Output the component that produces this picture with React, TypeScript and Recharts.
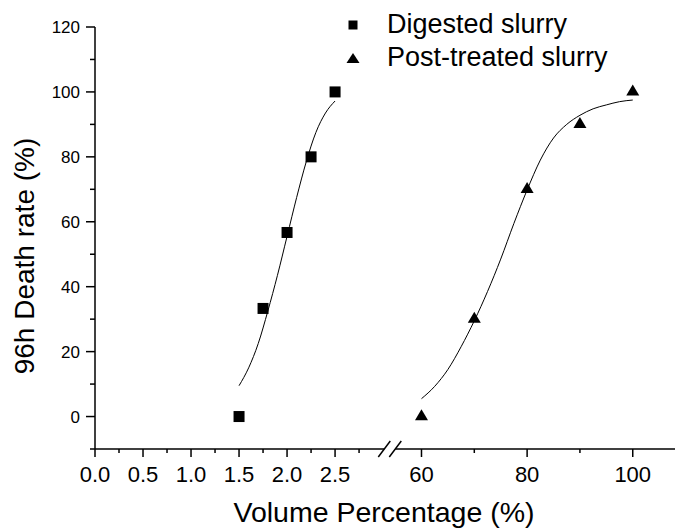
import React from "react";
import { ComposedChart, Scatter, Line, XAxis, YAxis, Legend, Label } from "recharts";

// measured points
const digestedX = [1.5, 1.75, 2.0, 2.25, 2.5];
const digestedY = [0, 33.3, 56.7, 80, 100];
const postX = [60, 70, 80, 90, 100];
const postY = [0, 30, 70, 90, 100];

// fitted curves
const digestedFitX = [1.5, 1.6, 1.7, 1.8, 1.9, 2.0, 2.1, 2.2, 2.3, 2.4, 2.5];
const digestedFitY = [9.5, 15, 22.5, 32.5, 43.5, 55.5, 67.5, 78.5, 87.5, 93.5, 97.2];
const postFitX = [60, 62.5, 65, 67.5, 70, 72.5, 75, 77.5, 80, 82.5, 85, 87.5, 90, 92.5, 95, 97.5, 100];
const postFitY = [5.5, 9.3, 14.5, 21.5, 29.5, 38.5, 48.5, 59.5, 69.8, 79, 85.8, 90, 92.8, 94.8, 96, 97, 97.5];

// ticks
const leftMajor = [0, 0.5, 1.0, 1.5, 2.0, 2.5];
const leftMinor = [0.25, 0.75, 1.25, 1.75, 2.25, 2.75];
const rightMajor = [60, 80, 100];
const rightMinor = [70, 90];
const yMajor = [0, 20, 40, 60, 80, 100, 120];
const yMinor = [-10, 10, 30, 50, 70, 90, 110];

const legendNames = ["Digested slurry", "Post-treated slurry"];

const FONT = '"Liberation Sans", Arial, Helvetica, sans-serif';

// broken axis: left part as is, right part squeezed after the break
const RIGHT_START = 56;
const RIGHT_V0 = 3.18;
const K = 0.055;
const V_MAX = 6.04;
const BREAK_V = 3.07;
const toV = (x: number) => (x <= 3 ? x : RIGHT_V0 + (x - RIGHT_START) * K);

const zip = (xs: number[], ys: number[]) => xs.map((x, i) => ({ v: toV(x), y: ys[i] }));
const digested = zip(digestedX, digestedY);
const post = zip(postX, postY);
const digestedFit = zip(digestedFitX, digestedFitY);
const postFit = zip(postFitX, postFitY);

type TickInfo = { kind: "major" | "minor" | "break"; label?: string };
const xTickInfo = new Map<number, TickInfo>();
leftMajor.forEach((t) => xTickInfo.set(toV(t), { kind: "major", label: t.toFixed(1) }));
leftMinor.forEach((t) => xTickInfo.set(toV(t), { kind: "minor" }));
rightMajor.forEach((t) => xTickInfo.set(toV(t), { kind: "major", label: String(t) }));
rightMinor.forEach((t) => xTickInfo.set(toV(t), { kind: "minor" }));
xTickInfo.set(BREAK_V, { kind: "break" });
const xTicks = [...xTickInfo.keys()].sort((a, b) => a - b);

const yTicks = [...yMajor, ...yMinor].sort((a, b) => a - b);

const lookup = (v: number) => {
  let best: TickInfo | undefined;
  let d = Infinity;
  xTickInfo.forEach((info, k) => {
    if (Math.abs(k - v) < d) {
      d = Math.abs(k - v);
      best = info;
    }
  });
  return best;
};

const XTick = (props: any) => {
  const { x, y, payload } = props;
  const info = lookup(payload.value);
  if (!info) return null;
  if (info.kind === "break") {
    return (
      <g>
        <rect x={x - 5.5} y={y - 3} width={11} height={6} fill="#fff" />
        <line x1={x - 11.5} y1={y + 8} x2={x + 0.5} y2={y - 8} stroke="#000" strokeWidth={1.5} />
        <line x1={x - 0.5} y1={y + 8} x2={x + 11.5} y2={y - 8} stroke="#000" strokeWidth={1.5} />
      </g>
    );
  }
  const len = info.kind === "major" ? 8 : 4;
  return (
    <g>
      <line x1={x} y1={y} x2={x} y2={y + len} stroke="#000" strokeWidth={1.5} />
      {info.kind === "major" && (
        <text x={x} y={y + 33} textAnchor="middle" fontSize={22} fontFamily={FONT} fill="#000">
          {info.label}
        </text>
      )}
    </g>
  );
};

const YTick = (props: any) => {
  const { x, y, payload } = props;
  const major = yMajor.includes(payload.value);
  return (
    <g>
      <line x1={x - (major ? 9 : 5)} y1={y} x2={x} y2={y} stroke="#000" strokeWidth={1.5} />
      {major && (
        <text x={x - 15} y={y + 6} textAnchor="end" fontSize={17} fontFamily={FONT} fill="#000">
          {payload.value}
        </text>
      )}
    </g>
  );
};

const XTitle = (props: any) => {
  const vb = props.viewBox || { x: 95, y: 449, width: 580, height: 80 };
  return (
    <text x={vb.x + vb.width / 2 - 1} y={vb.y + 72.5} textAnchor="middle" fontSize={28.5} fontFamily={FONT} fill="#000">
      Volume Percentage (%)
    </text>
  );
};

const YTitle = (props: any) => {
  const vb = props.viewBox || { x: 0, y: 27, width: 95, height: 422 };
  const cx = vb.x + 34;
  const cy = vb.y + vb.height / 2 + 18;
  return (
    <text x={cx} y={cy} transform={`rotate(-90 ${cx} ${cy})`} textAnchor="middle" fontSize={28} fontFamily={FONT} fill="#000">
      96h Death rate (%)
    </text>
  );
};

const SquareDot = (p: any) => <rect x={p.cx - 5.5} y={p.cy - 5.5} width={11} height={11} fill="#000" />;
const TriDot = (p: any) => (
  <polygon points={`${p.cx},${p.cy - 7.3} ${p.cx + 6.5},${p.cy + 3.7} ${p.cx - 6.5},${p.cy + 3.7}`} fill="#000" />
);

const LegendContent = () => (
  <div style={{ fontFamily: FONT, fontSize: 27, color: "#000" }}>
    {legendNames.map((name, i) => (
      <div key={name} style={{ display: "flex", alignItems: "center", height: 33, whiteSpace: "nowrap" }}>
        <svg width={26} height={33} style={{ display: "block" }}>
          {i === 0 ? (
            <rect x={8.5} y={12.5} width={9} height={9} fill="#000" />
          ) : (
            <polygon points="13,12 19.5,22 6.5,22" fill="#000" />
          )}
        </svg>
        <span style={{ marginLeft: 21, lineHeight: "33px" }}>{name}</span>
      </div>
    ))}
  </div>
);

export default function App() {
  return (
    <div>
      <style>{"body{margin:0}"}</style>
      <ComposedChart width={676} height={529} margin={{ top: 27, right: 1, bottom: 0, left: 0 }}>
        <XAxis
          type="number"
          dataKey="v"
          domain={[0, V_MAX]}
          allowDataOverflow
          ticks={xTicks}
          interval={0}
          tick={<XTick />}
          tickLine={false}
          tickSize={0}
          tickMargin={0}
          height={80}
          axisLine={{ stroke: "#000", strokeWidth: 1.5 }}
        >
          <Label content={<XTitle />} />
        </XAxis>
        <YAxis
          type="number"
          dataKey="y"
          domain={[-10, 120]}
          allowDataOverflow
          ticks={yTicks}
          interval={0}
          tick={<YTick />}
          tickLine={false}
          tickSize={0}
          tickMargin={0}
          width={95}
          axisLine={{ stroke: "#000", strokeWidth: 1.5 }}
        >
          <Label content={<YTitle />} />
        </YAxis>
        <Legend
          layout="vertical"
          align="center"
          verticalAlign="middle"
          wrapperStyle={{ top: 8, left: 340, width: 320 }}
          content={<LegendContent />}
        />
        <Line data={digestedFit} dataKey="y" type="monotone" stroke="#000" strokeWidth={1} dot={false} activeDot={false} legendType="none" isAnimationActive={false} />
        <Line data={postFit} dataKey="y" type="monotone" stroke="#000" strokeWidth={1} dot={false} activeDot={false} legendType="none" isAnimationActive={false} />
        <Scatter name={legendNames[0]} data={digested} dataKey="y" shape={<SquareDot />} isAnimationActive={false} />
        <Scatter name={legendNames[1]} data={post} dataKey="y" shape={<TriDot />} isAnimationActive={false} />
      </ComposedChart>
    </div>
  );
}
